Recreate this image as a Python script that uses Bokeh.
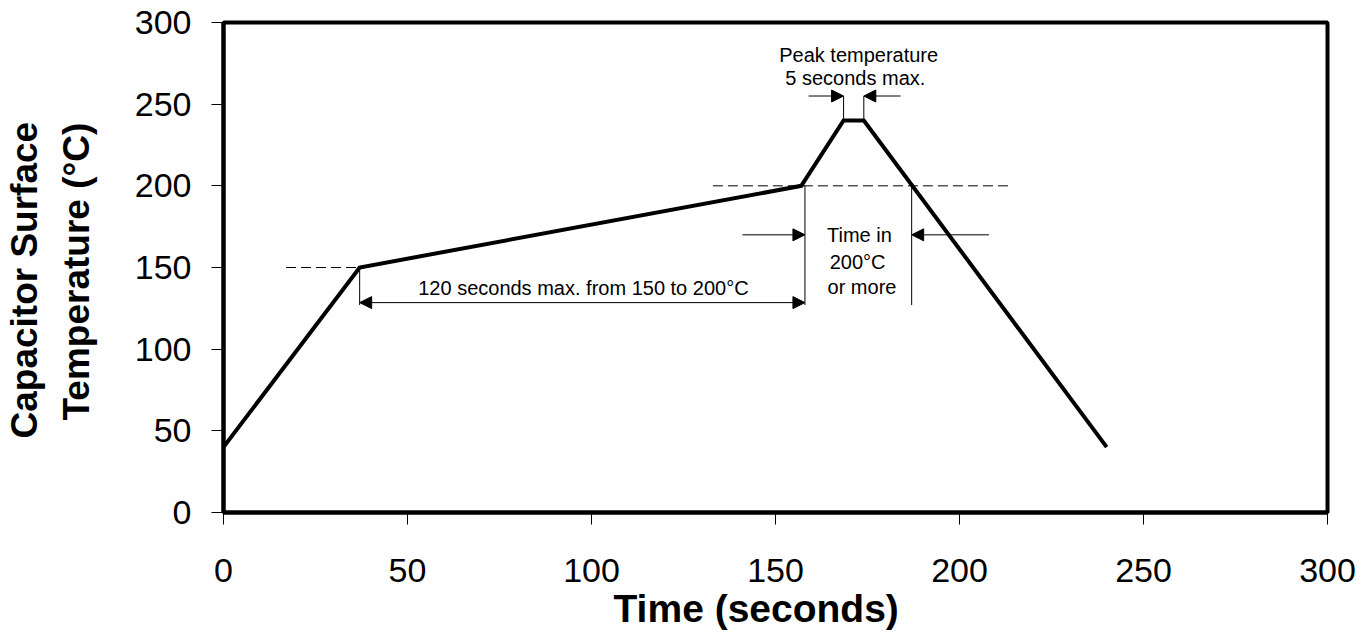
from bokeh.plotting import figure
from bokeh.models import Arrow, NormalHead, ColumnDataSource, FixedTicker, Title
from bokeh.core.properties import value
from bokeh.embed import file_html
from bokeh.resources import INLINE

# ---- data ----
time_s = [0, 37, 157, 168.5, 174, 240]
temp_c = [40, 150, 200, 240, 240, 40]

x_ticks = [0, 50, 100, 150, 200, 250, 300]
y_ticks = [0, 50, 100, 150, 200, 250, 300]

x_title = "Time (seconds)"
y_title_lines = ["Capacitor Surface", "Temperature (°C)"]

# dashed reference lines (x0, x1, y)
dash_x0 = [17, 133]
dash_x1 = [37, 214]
dash_y = [150, 200]

# thin vertical marker lines (x, y0, y1)
vline_x = [37, 158, 187, 168.5, 174]
vline_y0 = [127, 127, 127, 241, 241]
vline_y1 = [150, 200, 200, 255, 255]

# arrows (x_start, x_end, y, double)
arrow_x0 = [37, 141, 208, 159, 184]
arrow_x1 = [158, 158, 187, 168.5, 174]
arrow_y = [128.5, 170, 170, 255, 255]
arrow_double = [True, False, False, False, False]

# annotation texts
note_text = ["120 seconds max. from 150 to 200°C", "Peak temperature", "5 seconds max.",
             "Time in", "200°C", "or more"]
note_x = [97.8, 172.6, 171.7, 172.8, 172.3, 173.5]
note_y = [137.5, 280, 266, 170, 153.5, 138]

FONT = "Liberation Sans"

p = figure(width=1369, height=637, x_range=(0, 300), y_range=(0, 300),
           output_backend="svg", toolbar_location=None,
           min_border_left=223, min_border_right=42, min_border_top=22, min_border_bottom=125)
p.background_fill_color = "white"
p.border_fill_color = "white"
p.grid.visible = False
p.outline_line_color = "black"
p.outline_line_width = 4

for ax in (p.xaxis[0], p.yaxis[0]):
    ax.axis_line_width = 4
    ax.axis_line_color = "black"
    ax.major_tick_in = 0
    ax.major_tick_out = 12
    ax.major_tick_line_width = 1
    ax.major_tick_line_color = "black"
    ax.minor_tick_line_color = None
    ax.major_label_text_font = FONT
    ax.major_label_text_font_size = "34px"
    ax.major_label_text_color = "black"

p.xaxis.ticker = FixedTicker(ticks=x_ticks)
p.yaxis.ticker = FixedTicker(ticks=y_ticks)
p.xaxis.major_label_standoff = 34
p.yaxis.major_label_standoff = 20

# axis titles as side titles
p.add_layout(Title(text=x_title, align="left", offset=390, standoff=0,
                   text_font=FONT, text_font_size="39px", text_font_style="bold",
                   text_color="black"), "below")
p.add_layout(Title(text=y_title_lines[1], align="left", offset=92, standoff=69,
                   text_font=FONT, text_font_size="37px", text_font_style="bold",
                   text_color="black"), "left")
p.add_layout(Title(text=y_title_lines[0], align="left", offset=74, standoff=-50,
                   text_font=FONT, text_font_size="37px", text_font_style="bold",
                   text_color="black"), "left")

# dashed lines
p.segment(x0=dash_x0, x1=dash_x1, y0=dash_y, y1=dash_y,
          line_color="black", line_width=1, line_dash="10 5")

# vertical markers
p.segment(x0=vline_x, x1=vline_x, y0=vline_y0, y1=vline_y1,
          line_color="black", line_width=1)

# arrows
for xs, xe, ya, dbl in zip(arrow_x0, arrow_x1, arrow_y, arrow_double):
    head = NormalHead(size=12, fill_color="black", line_color="black", line_width=1)
    start = NormalHead(size=12, fill_color="black", line_color="black", line_width=1) if dbl else None
    p.add_layout(Arrow(x_start=xs, y_start=ya, x_end=xe, y_end=ya, end=head, start=start,
                       line_color="black", line_width=1))

# profile
p.line(time_s, temp_c, line_color="black", line_width=4, line_join="miter")

# texts
src = ColumnDataSource(dict(x=note_x, y=note_y, t=note_text))
p.text(x="x", y="y", text="t", source=src, text_font=value(FONT), text_font_size="20px",
       text_align="center", text_baseline="middle", text_color="black")

open("out.html", "w").write(file_html(p, INLINE))
